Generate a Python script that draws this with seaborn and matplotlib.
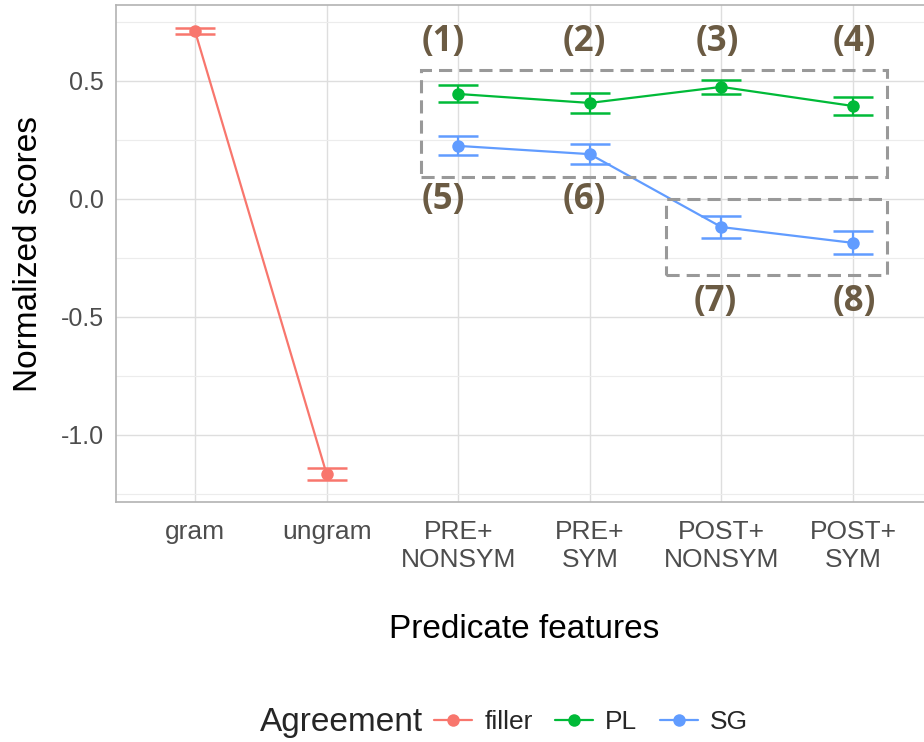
import numpy as np
import pandas as pd
import matplotlib
matplotlib.use("Agg")
import matplotlib.pyplot as plt
import seaborn as sns
from matplotlib.lines import Line2D
from matplotlib.patches import Rectangle

# =========================
# DATA
# =========================
conditions = ["gram", "ungram", "PRE+\nNONSYM", "PRE+\nSYM", "POST+\nNONSYM", "POST+\nSYM"]

filler_cond = ["gram", "ungram"]
filler_mean = [0.712, -1.165]
filler_se = [0.013, 0.025]

pl_cond = ["PRE+\nNONSYM", "PRE+\nSYM", "POST+\nNONSYM", "POST+\nSYM"]
pl_mean = [0.445, 0.407, 0.475, 0.394]
pl_se = [0.036, 0.042, 0.031, 0.040]

sg_cond = ["PRE+\nNONSYM", "PRE+\nSYM", "POST+\nNONSYM", "POST+\nSYM"]
sg_mean = [0.225, 0.190, -0.119, -0.186]
sg_se = [0.040, 0.043, 0.048, 0.049]

groups = ["filler", "PL", "SG"]
colors = {"filler": "#F8766D", "PL": "#00BA38", "SG": "#619CFF"}

df = pd.concat([
    pd.DataFrame({"cond": filler_cond, "score": filler_mean, "se": filler_se, "Agreement": "filler"}),
    pd.DataFrame({"cond": pl_cond, "score": pl_mean, "se": pl_se, "Agreement": "PL"}),
    pd.DataFrame({"cond": sg_cond, "score": sg_mean, "se": sg_se, "Agreement": "SG"}),
], ignore_index=True)
df["x"] = df["cond"].map({c: i for i, c in enumerate(conditions)})

# =========================
# STYLE
# =========================
sns.set_style("white")
plt.rcParams["font.family"] = ["Liberation Sans", "DejaVu Sans"]
plt.rcParams["axes.unicode_minus"] = False

fig = plt.figure(figsize=(9.24, 7.42), dpi=100)
ax = fig.add_axes([116 / 924, 1 - 502 / 742, (932 - 116) / 924, 497 / 742])

# =========================
# PLOT
# =========================
sns.lineplot(data=df, x="x", y="score", hue="Agreement", palette=colors,
             marker="o", markersize=9, markeredgewidth=0, linewidth=1.6,
             legend=False, ax=ax, zorder=3)

for g in groups:
    sub = df[df["Agreement"] == g]
    ax.errorbar(sub["x"], sub["score"], yerr=sub["se"], fmt="none",
                ecolor=colors[g], elinewidth=1.6, capsize=14.5, capthick=1.8, zorder=3)

# dashed boxes
ax.add_patch(Rectangle((1.715, 0.093), 5.26 - 1.715, 0.547 - 0.093, fill=False,
                       ec="#999999", lw=2.2, ls=(0, (4.3, 2.3)), zorder=4))
ax.add_patch(Rectangle((3.58, -0.323), 5.26 - 3.58, 0.323, fill=False,
                       ec="#999999", lw=2.2, ls=(0, (4.3, 2.3)), zorder=4))

# number labels
lab_col = "#6b5b43"
labels = [("(1)", 1.89, 0.665), ("(2)", 2.96, 0.665), ("(3)", 3.97, 0.665), ("(4)", 5.01, 0.665),
          ("(5)", 1.89, -0.005), ("(6)", 2.96, -0.005), ("(7)", 3.95, -0.436), ("(8)", 5.01, -0.436)]
for t, xx, yy in labels:
    ax.text(xx, yy, t, ha="center", va="center", fontsize=25, fontweight="bold",
            color=lab_col, family=["Open Sans", "DejaVu Sans"], zorder=5)

# =========================
# AXES
# =========================
ax.set_xlim(-0.6, 5.6)
ax.set_ylim(-1.284, 0.822)
ax.set_xticks(range(len(conditions)))
ax.set_xticklabels(conditions, fontsize=19, color="#4d4d4d", linespacing=1.2)
ax.set_yticks([-1.0, -0.5, 0.0, 0.5])
ax.set_yticklabels(["-1.0", "-0.5", "0.0", "0.5"], fontsize=18, color="#4d4d4d")
ax.set_yticks([-1.25, -0.75, -0.25, 0.25, 0.75], minor=True)

ax.grid(True, which="major", color="#dedede", lw=1.0)
ax.grid(True, which="minor", axis="y", color="#ececec", lw=0.8)
ax.set_axisbelow(True)
ax.tick_params(axis="x", which="major", length=4, color="#b3b3b3", width=1, pad=9)
ax.tick_params(axis="y", which="major", length=4, color="#b3b3b3", width=1, pad=5)
ax.tick_params(axis="both", which="minor", length=0)
for s in ax.spines.values():
    s.set_color("#b3b3b3")
    s.set_linewidth(1.2)

ax.set_xlabel("Predicate features", fontsize=24, color="black", labelpad=30)
ax.set_ylabel("Normalized scores", fontsize=24, color="black", labelpad=12)

# =========================
# LEGEND
# =========================
fig.text(260 / 924, 1 - 722 / 742, "Agreement", fontsize=24, va="center", ha="left")
handles = [Line2D([0], [0], color=colors[g], lw=1.6, marker="o", markersize=9, markeredgewidth=0)
           for g in groups]
fig.legend(handles, groups, loc="center left", bbox_to_anchor=(434 / 924, 1 - 722 / 742),
           ncol=3, frameon=False, fontsize=19, handlelength=1.45, handletextpad=0.45,
           columnspacing=0.85, borderpad=0, borderaxespad=0)

fig.savefig("out.png", dpi=100)
